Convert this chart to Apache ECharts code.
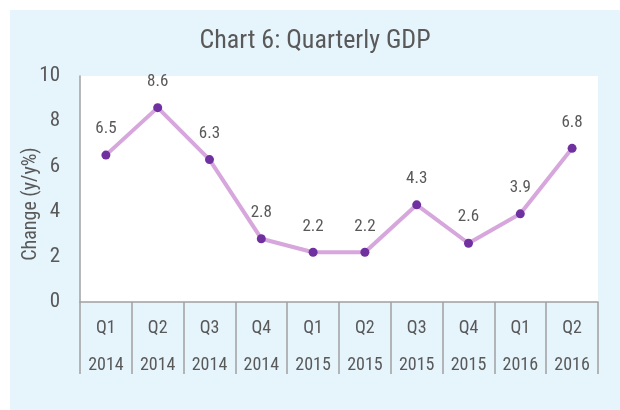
<!DOCTYPE html>
<html>
<head>
<meta charset="utf-8">
<script src="https://cdn.jsdelivr.net/npm/echarts@6/dist/echarts.min.js"></script>
<style>
  body { margin: 0; background: #ffffff; }
  #wrap { position: absolute; left: 10px; top: 10px; width: 610px; height: 400px; background: #e6f4fc; }
  #chart { width: 610px; height: 400px; }
</style>
</head>
<body>
<div id="wrap"><div id="chart"></div></div>
<script>
const quarters = ["Q1", "Q2", "Q3", "Q4", "Q1", "Q2", "Q3", "Q4", "Q1", "Q2"];
const years = ["2014", "2014", "2014", "2014", "2015", "2015", "2015", "2015", "2016", "2016"];
const gdpGrowth = [6.5, 8.6, 6.3, 2.8, 2.2, 2.2, 4.3, 2.6, 3.9, 6.8];
const yTicks = [0, 2, 4, 6, 8, 10];

const textColor = "#595959";
const fontFamily = "'Roboto Condensed', 'Liberation Sans Narrow', Roboto, sans-serif";

const chart = echarts.init(document.getElementById("chart"));
chart.setOption({
  backgroundColor: "transparent",
  title: {
    text: "Chart 6: Quarterly GDP",
    left: "center",
    top: 13,
    textStyle: {
      color: textColor,
      fontSize: 26,
      fontWeight: "normal",
      fontFamily: fontFamily,
    },
  },
  grid: {
    left: 70,
    top: 66,
    width: 518,
    height: 226,
    outerBoundsMode: "none",
    show: true,
    backgroundColor: "#ffffff",
    borderWidth: 0,
  },
  xAxis: {
    type: "category",
    data: quarters.map((q, i) => q + "\n" + years[i]),
    boundaryGap: true,
    axisLine: { lineStyle: { color: "#a0a0a0", width: 1.5 } },
    axisTick: {
      show: true,
      length: 72,
      interval: 0,
      lineStyle: { color: "#a0a0a0", width: 1.5 },
    },
    axisLabel: {
      interval: 0,
      margin: 8,
      color: textColor,
      fontSize: 18,
      lineHeight: 37,
      fontFamily: fontFamily,
    },
  },
  yAxis: {
    type: "value",
    min: yTicks[0],
    max: yTicks[yTicks.length - 1],
    interval: 2,
    name: "Change (y/y%)",
    nameLocation: "middle",
    nameGap: 39,
    nameMoveOverlap: false,
    nameTextStyle: {
      color: textColor,
      fontSize: 20,
      fontFamily: fontFamily,
      padding: [0, 0, 0, -30],
    },
    axisLine: { show: true, lineStyle: { color: "#a0a0a0", width: 1.5 } },
    axisTick: { show: false },
    splitLine: { show: false },
    axisLabel: {
      margin: 20,
      color: textColor,
      fontSize: 21,
      fontFamily: fontFamily,
    },
  },
  series: [
    {
      type: "line",
      data: gdpGrowth,
      symbol: "circle",
      symbolSize: 9,
      lineStyle: { color: "#d6a6dc", width: 4 },
      itemStyle: { color: "#7030a0" },
      label: {
        show: true,
        position: "top",
        distance: 13,
        color: textColor,
        fontSize: 17,
        fontFamily: fontFamily,
      },
    },
  ],
});
</script>
</body>
</html>
